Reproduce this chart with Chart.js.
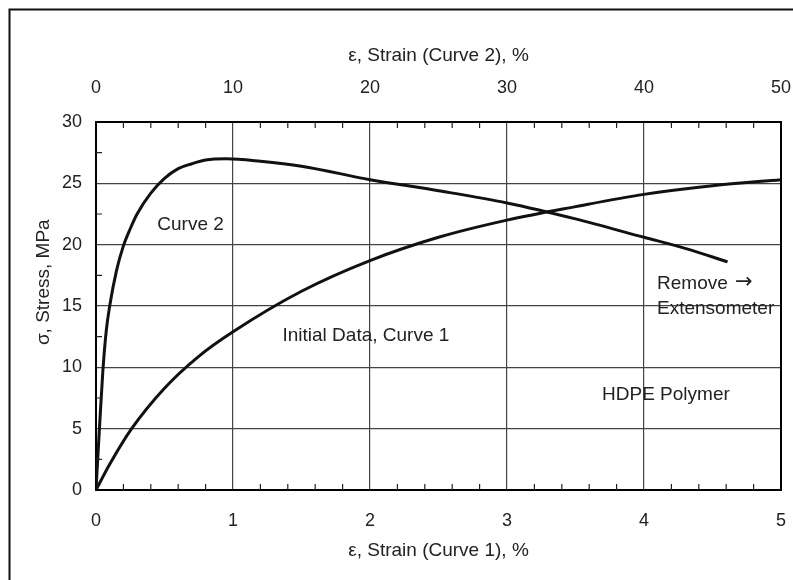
<!DOCTYPE html>
<html>
<head>
<meta charset="utf-8">
<script src="https://cdn.jsdelivr.net/npm/chart.js@4"></script>
<style>
  body { margin: 0; background: #fff; }
  canvas { display: block; }
</style>
</head>
<body>
<canvas id="myChart" width="793" height="580"></canvas>
<script>
// Curve 1: initial data, strain on the bottom axis (%)
const curve1Strain = [0, 0.1, 0.26, 0.5, 0.75, 1.0, 1.5, 2.0, 2.5, 3.0, 3.5, 4.0, 4.5, 5.0];
const curve1Stress = [0, 2.1, 5, 8.3, 10.9, 12.9, 16.2, 18.7, 20.6, 22.0, 23.1, 24.1, 24.8, 25.3];

// Curve 2: strain on the top axis (%)
const curve2Strain = [0, 0.25, 0.5, 0.75, 1.0, 1.5, 2.0, 2.5, 3.0, 4.0, 5.0, 6.0, 7.0, 8.0, 9.5, 12, 15, 20, 25, 30, 35, 40, 43, 46.1];
const curve2Stress = [0, 5, 9.7, 13, 15, 17.9, 19.9, 21.3, 22.5, 24.2, 25.4, 26.2, 26.6, 26.9, 27.0, 26.8, 26.4, 25.3, 24.4, 23.4, 22.1, 20.6, 19.7, 18.6];

const bottomTicks = [0, 1, 2, 3, 4, 5];
const topTicks = [0, 10, 20, 30, 40, 50];
const stressTicks = [0, 5, 10, 15, 20, 25, 30];

// text written on the plot, placed in bottom-axis / stress units
const notes = [
  { text: "Curve 2", x: 0.69, y: 21.6, align: "center" },
  { text: "Initial Data, Curve 1", x: 1.97, y: 12.55, align: "center" },
  { text: "Remove", x: 4.095, y: 16.8, align: "left" },
  { text: "\u2192", x: 4.665, y: 16.9, align: "left", font: "21px 'DejaVu Sans', sans-serif" },
  { text: "Extensometer", x: 4.095, y: 14.75, align: "left" },
  { text: "HDPE Polymer", x: 4.16, y: 7.8, align: "center" }
];

const family = "'Liberation Sans', Arial, Helvetica, sans-serif";
const textColor = "#222";

const toPoints = (xs, ys) => xs.map((x, i) => ({ x, y: ys[i] }));
const setTicks = (list) => (scale) => { scale.ticks = list.map((v) => ({ value: v })); };
const noPad = (size, key) => (s) => {
  s[key] = size;
  s.paddingLeft = 0; s.paddingRight = 0; s.paddingTop = 0; s.paddingBottom = 0;
};

const decorations = {
  id: "decorations",
  afterDraw(chart) {
    const { ctx, chartArea: a, scales } = chart;
    ctx.save();

    // right side of the plot box
    ctx.strokeStyle = "#000";
    ctx.lineWidth = 2;
    ctx.beginPath();
    ctx.moveTo(a.right, a.top - 1);
    ctx.lineTo(a.right, a.bottom + 1);
    ctx.stroke();

    // small inward ticks
    ctx.lineWidth = 1.2;
    ctx.strokeStyle = "#222";
    ctx.beginPath();
    for (let i = 1; i < 25; i++) {
      if (i % 5 === 0) continue;
      const px = scales.x.getPixelForValue(i * 0.2);
      ctx.moveTo(px, a.bottom);
      ctx.lineTo(px, a.bottom - 6);
      const pt = scales.x2.getPixelForValue(i * 2);
      ctx.moveTo(pt, a.top);
      ctx.lineTo(pt, a.top + 6);
    }
    for (let i = 0; i < 6; i++) {
      const py = scales.y.getPixelForValue(2.5 + i * 5);
      ctx.moveTo(a.left, py);
      ctx.lineTo(a.left + 6, py);
    }
    ctx.stroke();

    // notes
    ctx.fillStyle = textColor;
    ctx.textBaseline = "middle";
    notes.forEach((n) => {
      ctx.font = n.font || "19px " + family;
      ctx.textAlign = n.align;
      ctx.fillText(n.text, scales.x.getPixelForValue(n.x), scales.y.getPixelForValue(n.y));
    });

    // outer frame (top and left edges)
    ctx.strokeStyle = "#111";
    ctx.lineWidth = 2;
    ctx.beginPath();
    ctx.moveTo(9.5, 580);
    ctx.lineTo(9.5, 9.5);
    ctx.lineTo(793, 9.5);
    ctx.stroke();
    ctx.restore();
  }
};

const ctx = document.getElementById("myChart").getContext("2d");
const myChart = new Chart(ctx, {
  type: "line",
  data: {
    datasets: [
      {
        label: "Initial Data, Curve 1",
        data: toPoints(curve1Strain, curve1Stress),
        xAxisID: "x",
        yAxisID: "y",
        borderColor: "#111",
        borderWidth: 3,
        pointRadius: 0,
        cubicInterpolationMode: "monotone",
        fill: false
      },
      {
        label: "Curve 2",
        data: toPoints(curve2Strain, curve2Stress),
        xAxisID: "x2",
        yAxisID: "y",
        borderColor: "#111",
        borderWidth: 3,
        pointRadius: 0,
        cubicInterpolationMode: "monotone",
        fill: false
      }
    ]
  },
  options: {
    responsive: false,
    animation: false,
    layout: { padding: { left: 0, right: 12, top: 0, bottom: 0 } },
    plugins: {
      legend: { display: false },
      tooltip: { enabled: false }
    },
    scales: {
      x: {
        type: "linear",
        position: "bottom",
        min: 0,
        max: 5,
        afterBuildTicks: setTicks(bottomTicks),
        afterFit: noPad(90, "height"),
        grid: { color: "#444", lineWidth: 1.2, drawTicks: false },
        border: { color: "#000", width: 2 },
        ticks: { padding: 20, color: textColor, maxRotation: 0, font: { family, size: 18 } },
        title: {
          display: true,
          text: "\u03b5, Strain (Curve 1), %",
          color: textColor,
          font: { family, size: 19 },
          padding: { top: 0, bottom: 18 }
        }
      },
      x2: {
        type: "linear",
        position: "top",
        min: 0,
        max: 50,
        afterBuildTicks: setTicks(topTicks),
        afterFit: noPad(122, "height"),
        grid: { display: false, drawTicks: false },
        border: { color: "#000", width: 2 },
        ticks: { padding: 23, color: textColor, maxRotation: 0, font: { family, size: 18 } },
        title: {
          display: true,
          text: "\u03b5, Strain (Curve 2), %",
          color: textColor,
          font: { family, size: 19 },
          padding: { top: 44, bottom: 0 }
        }
      },
      y: {
        type: "linear",
        position: "left",
        min: 0,
        max: 30,
        afterBuildTicks: setTicks(stressTicks),
        afterFit: noPad(96, "width"),
        grid: { color: "#444", lineWidth: 1.2, drawTicks: false },
        border: { color: "#000", width: 2 },
        ticks: { padding: 14, color: textColor, font: { family, size: 18 } },
        title: {
          display: true,
          text: "         \u03c3, Stress, MPa",
          color: textColor,
          font: { family, size: 19 },
          padding: { top: 32, bottom: 0 }
        }
      }
    }
  },
  plugins: [decorations]
});
</script>
</body>
</html>
